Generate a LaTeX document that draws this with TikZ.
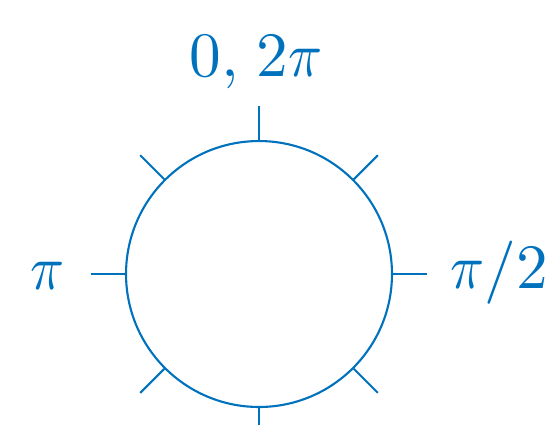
\documentclass[tikz,border=0pt]{standalone}
\definecolor{mblue}{RGB}{0,114,189}
\newcommand{\mypi}{\scalebox{3.2}[3.6]{$\pi$}}
\begin{document}
\begin{tikzpicture}[x=0.02cm,y=-0.02cm,
  lbl/.style={text=mblue,inner sep=0pt},
  tick/.style={draw=mblue,line width=1.2pt}]
\useasboundingbox (0,0) rectangle (554,424);
\node[draw=mblue,line width=1.2pt,circle,minimum size=5.32cm,inner sep=0pt] (c) at (259,274) {};
\foreach \a in {0,45,...,315} \draw[tick] (c.\a) -- ++(\a:0.68cm);
\node[lbl,anchor=base] (t) at (256,76) {\scalebox{3.6}{$0,$}\hspace{10pt}\scalebox{3.6}{$2$}\mypi};
\node[lbl,anchor=base] (l) at (48,289) {\mypi};
\node[lbl,anchor=base west] (r) at (450,288) {\mypi\scalebox{3.6}{$/2$}};
\end{tikzpicture}
\end{document}
